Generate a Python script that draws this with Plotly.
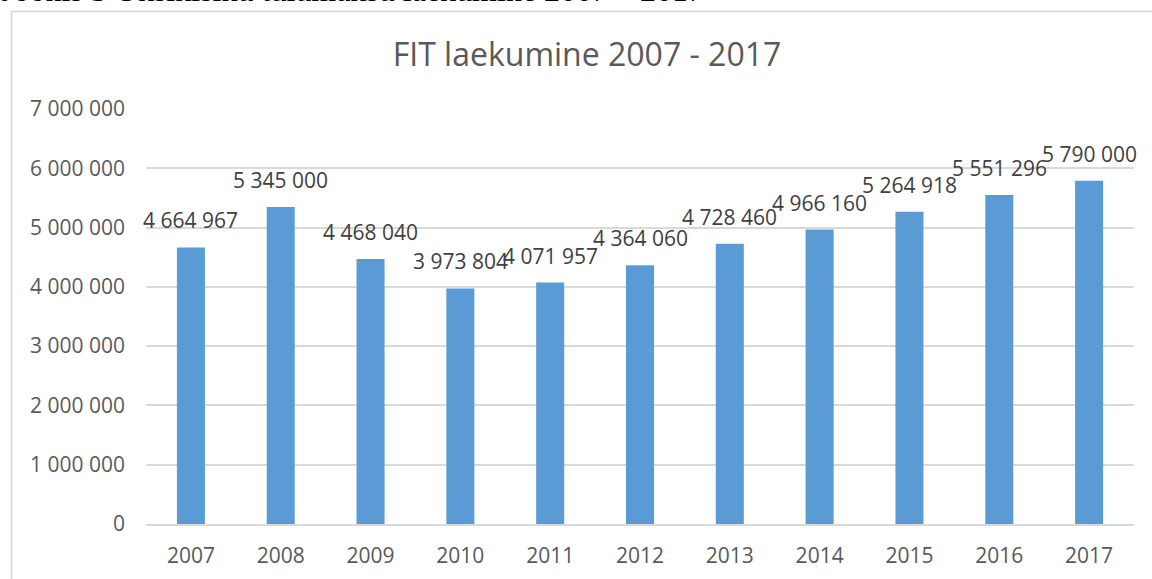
import plotly.graph_objects as go

years = ["2007", "2008", "2009", "2010", "2011", "2012", "2013", "2014", "2015", "2016", "2017"]
values = [4664967, 5345000, 4468040, 3973804, 4071957, 4364060, 4728460, 4966160, 5264918, 5551296, 5790000]
y_ticks = [0, 1000000, 2000000, 3000000, 4000000, 5000000, 6000000, 7000000]

title_text = "FIT laekumine 2007 - 2017"
caption_text = "Joonis 3 Üksikisiku tulumaksu laekumine 2007 – 2017"

W, H = 1152, 579
L, R, T, B = 146, 18, 109, 55
pw, ph = W - L - R, H - T - B

def px_x(x):
    return (x - L) / pw

def px_y(y):
    return 1 - (y - T) / ph

FONT = "Open Sans"

fig = go.Figure()
fig.add_trace(go.Bar(
    x=years, y=values,
    marker=dict(color="#5b9bd5", line=dict(width=0)),
    hoverinfo="x+y",
))

annotations = []
for i, (yr, v) in enumerate(zip(years, values)):
    annotations.append(dict(
        x=i, y=v, xref="x", yref="y",
        text=f"{v:,}".replace(",", " "),
        showarrow=False, yanchor="bottom", xanchor="center", yshift=11,
        font=dict(family=FONT, size=21, color="#404040"),
    ))

# cut-off caption above the chart frame
annotations.append(dict(
    x=px_x(-1), y=px_y(10), xref="paper", yref="paper",
    text=caption_text, showarrow=False, xanchor="left", yanchor="bottom",
    font=dict(family="Liberation Serif", size=32, color="#000000"),
))

shapes = [
    dict(type="line", xref="paper", yref="paper",
         x0=px_x(11.5), x1=px_x(1160), y0=px_y(11.5), y1=px_y(11.5),
         line=dict(color="#d4d4d4", width=1.5)),
    dict(type="line", xref="paper", yref="paper",
         x0=px_x(11.5), x1=px_x(11.5), y0=px_y(11.5), y1=px_y(590),
         line=dict(color="#d4d4d4", width=1.5)),
]

fig.update_layout(
    width=W, height=H,
    margin=dict(l=L, r=R, t=T, b=B, autoexpand=False),
    paper_bgcolor="white", plot_bgcolor="white",
    separators=", ",
    bargap=0.688,
    showlegend=False,
    title=dict(text=title_text, x=587 / W, xanchor="center", y=1 - 55 / H, yanchor="middle",
               font=dict(family=FONT, size=32, color="#595959")),
    xaxis=dict(
        type="category", range=[-0.5, len(years) - 0.5], autorange=False,
        showgrid=False, zeroline=False,
        showline=True, linecolor="#d9d9d9", linewidth=1.5,
        ticks="", ticklabelstandoff=12,
        tickfont=dict(family=FONT, size=21, color="#595959"),
    ),
    yaxis=dict(
        range=[0, 7000000], tickvals=y_ticks, tickformat=",d",
        showgrid=True, gridcolor="#d9d9d9", gridwidth=1.5,
        zeroline=False, showline=False, ticks="", ticklabelstandoff=20,
        tickfont=dict(family=FONT, size=21, color="#595959"),
    ),
    annotations=annotations,
    shapes=shapes,
)

fig.write_html(
    "out.html",
    config={"displayModeBar": False},
    post_script="document.body.style.margin='0';document.body.style.overflow='hidden';",
)
